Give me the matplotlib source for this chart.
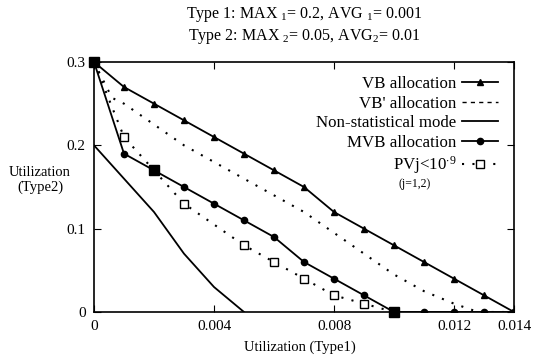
import matplotlib
matplotlib.use("Agg")
import matplotlib.pyplot as plt
from matplotlib.lines import Line2D

plt.rcParams['font.family'] = ['Liberation Serif', 'DejaVu Serif']
plt.rcParams['mathtext.fontset'] = 'custom'
plt.rcParams['mathtext.rm'] = 'Liberation Serif'
plt.rcParams['mathtext.it'] = 'Liberation Serif:italic'
plt.rcParams['mathtext.bf'] = 'Liberation Serif:bold'

# data
vb_x = [0, 0.001, 0.002, 0.003, 0.004, 0.005, 0.006, 0.007, 0.008, 0.009, 0.010, 0.011, 0.012, 0.013, 0.014]
vb_y = [0.3, 0.27, 0.25, 0.23, 0.21, 0.19, 0.17, 0.15, 0.12, 0.10, 0.08, 0.06, 0.04, 0.02, 0.0]

vbp_x = [0, 0.0006, 0.001, 0.002, 0.003, 0.004, 0.005, 0.006, 0.007, 0.008, 0.009, 0.010, 0.011, 0.012, 0.0128, 0.014]
vbp_y = [0.3, 0.257, 0.25, 0.225, 0.20, 0.18, 0.16, 0.14, 0.12, 0.095, 0.07, 0.045, 0.025, 0.01, 0.0, 0.0]

ns_x = [0, 0.001, 0.002, 0.003, 0.004, 0.005]
ns_y = [0.2, 0.16, 0.12, 0.07, 0.03, 0.0]

mvb_x = [0, 0.001, 0.002, 0.003, 0.004, 0.005, 0.006, 0.007, 0.008, 0.009, 0.010, 0.011, 0.012, 0.013, 0.014]
mvb_y = [0.3, 0.19, 0.17, 0.15, 0.13, 0.11, 0.09, 0.06, 0.04, 0.02, 0.0, 0.0, 0.0, 0.0, 0.0]

pv_x = [0, 0.001, 0.002, 0.003, 0.005, 0.006, 0.007, 0.008, 0.009, 0.010]
pv_y = [0.3, 0.21, 0.17, 0.13, 0.08, 0.06, 0.04, 0.02, 0.01, 0.0]

pv_filled_x = [0, 0.002, 0.010]
pv_filled_y = [0.3, 0.17, 0.0]

xticks = [0, 0.004, 0.008, 0.012, 0.014]
xticklabels = ['0', '0.004', '0.008', '0.012', '0.014']
yticks = [0, 0.1, 0.2, 0.3]
yticklabels = ['0', '0.1', '0.2', '0.3']

fig = plt.figure(figsize=(5.35, 3.58), dpi=100)
ax = fig.add_axes([94/535, 1-312/358, 420/535, 250/358])

lw = 1.3
dot = (0, (1, 4))
ax.plot(vb_x, vb_y, color='black', lw=lw, marker='^', ms=5)
ax.plot(vbp_x, vbp_y, color='black', lw=1.5, linestyle=dot)
ax.plot(ns_x, ns_y, color='black', lw=lw)
ax.plot(mvb_x, mvb_y, color='black', lw=lw, marker='o', ms=4.5)
ax.plot(pv_x, pv_y, color='black', lw=1.5, linestyle=dot, marker='s', ms=5.5,
        markerfacecolor='white', markeredgewidth=1.0)
ax.plot(pv_filled_x, pv_filled_y, color='black', lw=0, marker='s', ms=6.5, clip_on=False)

ax.set_xlim(0, 0.014)
ax.set_ylim(0, 0.3)
ax.set_xticks(xticks)
ax.set_xticklabels(xticklabels)
ax.set_yticks(yticks)
ax.set_yticklabels(yticklabels)
ax.tick_params(direction='in', top=True, right=True, length=5, labelsize=11, pad=6)
for s in ax.spines.values():
    s.set_linewidth(1.2)

handles = [
    Line2D([], [], color='black', lw=lw, marker='^', ms=5),
    Line2D([], [], color='black', lw=1.0, linestyle=(0, (3, 3))),
    Line2D([], [], color='black', lw=lw),
    Line2D([], [], color='black', lw=lw, marker='o', ms=4.5),
    Line2D([], [], color='black', lw=1.5, linestyle=dot, marker='s', ms=5.5,
           markerfacecolor='white'),
]
labels = ['VB allocation', "VB' allocation", 'Non-statistical mode', 'MVB allocation',
          r'PVj<10$^{\cdot 9}$']
leg = ax.legend(handles, labels, loc='upper right', frameon=False, markerfirst=False,
                fontsize=12.2, handlelength=2.1, handletextpad=0.35, labelspacing=0.2,
                borderaxespad=0.3, bbox_to_anchor=(0.99, 0.99))
for t in leg.get_texts():
    t.set_ha('right')
leg._legend_box.align = 'right'

fig.text(415/535, 1-184/358, '(j=1,2)', fontsize=8.5, ha='center', va='center')

fig.text(304/535, 1-14/358, r'Type 1: MAX $_1$= 0.2, AVG $_1$= 0.001', fontsize=11.5,
         ha='center', va='center')
fig.text(304/535, 1-36/358, r'Type 2: MAX $_2$= 0.05, AVG$_2$= 0.01', fontsize=11.5,
         ha='center', va='center')

fig.text(40/535, 1-180/358, 'Utilization\n(Type2)', fontsize=10.5, ha='center', va='center',
         linespacing=1.1)
fig.text(300/535, 1-347/358, 'Utilization (Type1)', fontsize=10.5, ha='center', va='center')

fig.savefig('out.png', dpi=100)
